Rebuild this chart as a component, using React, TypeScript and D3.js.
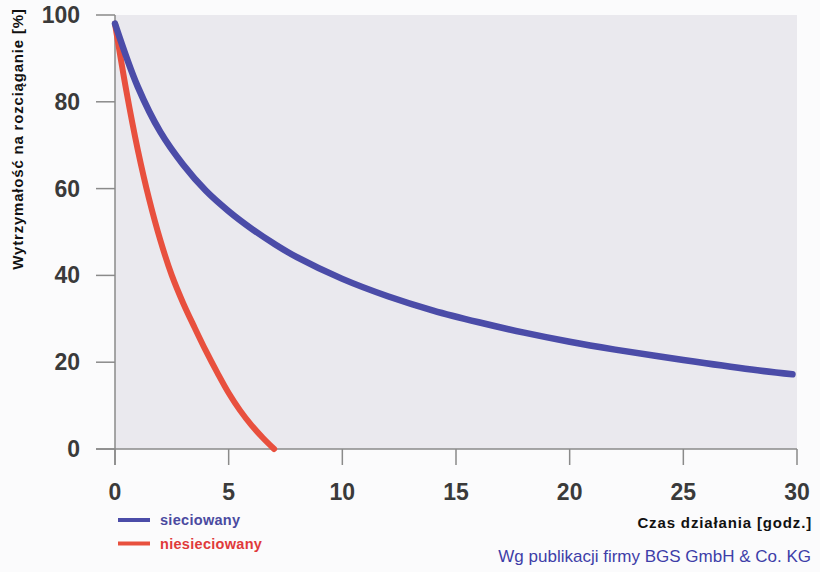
import React from "react";
import * as d3 from "d3";

const xTicks = [0, 5, 10, 15, 20, 25, 30];
const yTicks = [0, 20, 40, 60, 80, 100];

const crossTime = [0, 1, 2, 3, 4, 5, 6, 7, 8, 10, 12, 14, 16, 18, 20, 22, 25, 28, 29.8];
const crossValue = [98, 83.5, 73, 65.5, 59.5, 54.8, 50.8, 47.3, 44.2, 39.2, 35.2, 31.9, 29.2, 26.8, 24.7, 22.9, 20.5, 18.3, 17.2];

const plainTime = [0, 0.5, 1, 1.5, 2, 2.5, 3, 3.5, 4, 4.5, 5, 5.5, 6, 6.5, 7];
const plainValue = [98, 82.5, 69, 57.6, 48, 40, 33.6, 28, 22.6, 17.6, 12.9, 8.9, 5.5, 2.6, 0];

const seriesNames = ["sieciowany", "niesieciowany"];
const seriesColors = ["#4b4ca8", "#e8503e"];

const yTitle = "Wytrzymałość na rozciąganie [%]";
const xTitle = "Czas działania [godz.]";
const credit = "Wg publikacji firmy BGS GmbH & Co. KG";

export default function App() {
  const W = 820;
  const H = 572;
  const x = d3.scaleLinear().domain([0, 30]).range([115, 797]);
  const y = d3.scaleLinear().domain([0, 100]).range([449, 15]);

  const line = d3
    .line<[number, number]>()
    .x((d) => x(d[0]))
    .y((d) => y(d[1]))
    .curve(d3.curveCatmullRom.alpha(0.5));

  const cross: [number, number][] = crossTime.map((t, i) => [t, crossValue[i]]);
  const plain: [number, number][] = plainTime.map((t, i) => [t, plainValue[i]]);

  const font = "'Liberation Sans', Arial, sans-serif";
  const axisColor = "#8a8a8a";

  return (
    <svg
      width={W}
      height={H}
      style={{ position: "absolute", left: 0, top: 0, background: "#fbfbfc" }}
      fontFamily={font}
    >
      <rect x={0} y={0} width={W} height={H} fill="#fbfbfc" />
      <rect
        x={x(0)}
        y={y(100)}
        width={x(30) - x(0)}
        height={y(0) - y(100)}
        fill="#eae9ee"
      />
      {/* axes */}
      <line x1={x(0)} x2={x(0)} y1={y(100)} y2={y(0) + 16} stroke={axisColor} strokeWidth={1.5} />
      <line x1={x(0) - 19} x2={x(30)} y1={y(0)} y2={y(0)} stroke={axisColor} strokeWidth={1.5} />
      {yTicks.map((t) => (
        <g key={"y" + t}>
          <line x1={x(0) - 19} x2={x(0)} y1={y(t)} y2={y(t)} stroke={axisColor} strokeWidth={1.5} />
          <text
            x={80}
            y={y(t)}
            textAnchor="end"
            dominantBaseline="central"
            fontSize={23}
            fontWeight="bold"
            fill="#3a3a3a"
          >
            {t}
          </text>
        </g>
      ))}
      {xTicks.map((t) => (
        <g key={"x" + t}>
          <line x1={x(t)} x2={x(t)} y1={y(0)} y2={y(0) + 16} stroke={axisColor} strokeWidth={1.5} />
          <text
            x={x(t)}
            y={492}
            textAnchor="middle"
            dominantBaseline="central"
            fontSize={23}
            fontWeight="bold"
            fill="#3a3a3a"
          >
            {t}
          </text>
        </g>
      ))}
      {/* curves */}
      <path d={line(plain) || ""} fill="none" stroke={seriesColors[1]} strokeWidth={6} strokeLinecap="round" />
      <path d={line(cross) || ""} fill="none" stroke={seriesColors[0]} strokeWidth={6.5} strokeLinecap="round" />
      {/* titles */}
      <text
        transform={`translate(17, 139) rotate(-90)`}
        textAnchor="middle"
        dominantBaseline="central"
        fontSize={15}
        fontWeight="bold"
        fill="#111"
        letterSpacing={0.8}
      >
        {yTitle}
      </text>
      <text x={812} y={522} textAnchor="end" dominantBaseline="central" fontSize={15} fontWeight="bold" fill="#111" letterSpacing={0.85}>
        {xTitle}
      </text>
      {/* legend */}
      {seriesNames.map((n, i) => (
        <g key={n}>
          <line x1={118} x2={150} y1={520 + i * 23.5} y2={520 + i * 23.5} stroke={seriesColors[i]} strokeWidth={4} />
          <text
            x={160}
            y={520 + i * 23.5}
            dominantBaseline="central"
            fontSize={14.5}
            fontWeight="bold"
            fill={i === 0 ? "#4a4aa0" : "#e03a3a"}
            letterSpacing={0.3}
          >
            {n}
          </text>
        </g>
      ))}
      <text x={811} y={556} textAnchor="end" dominantBaseline="central" fontSize={17} fill="#3e3ea8">
        {credit}
      </text>
    </svg>
  );
}
